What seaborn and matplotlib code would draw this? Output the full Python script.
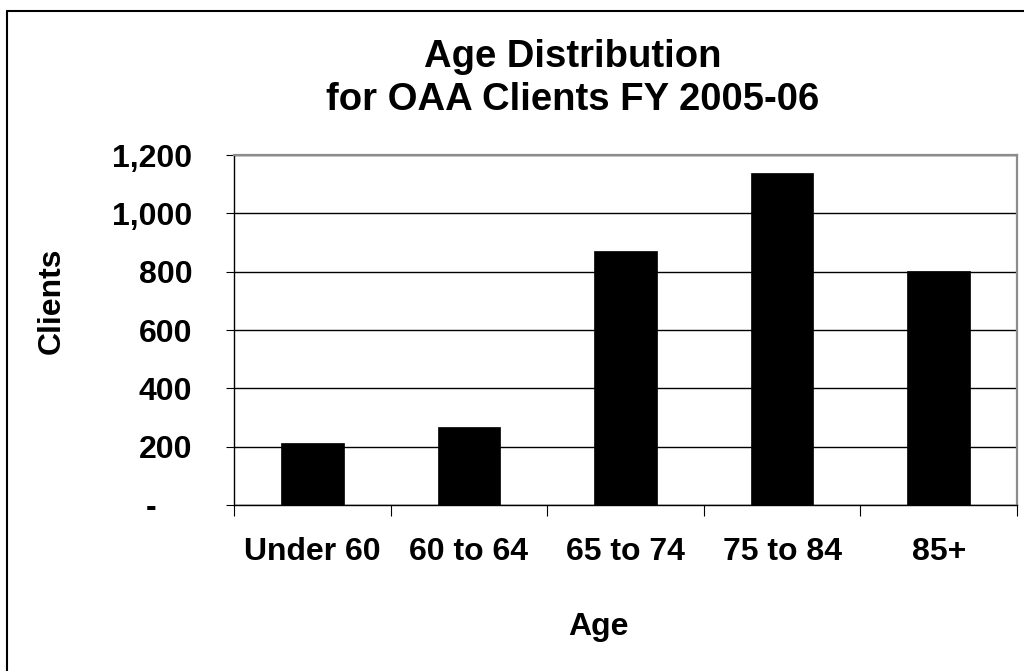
import pandas as pd
import matplotlib.pyplot as plt
import seaborn as sns
from matplotlib.ticker import FuncFormatter, FixedLocator
from matplotlib.lines import Line2D

# Chart data
age_groups = ["Under 60", "60 to 64", "65 to 74", "75 to 84", "85+"]
clients = [214, 269, 872, 1139, 803]
y_ticks = [0, 200, 400, 600, 800, 1000, 1200]

df = pd.DataFrame({"age": age_groups, "clients": clients})

sns.set_style("white")
plt.rcParams["font.family"] = ["Liberation Sans", "DejaVu Sans"]
plt.rcParams["font.weight"] = "bold"
plt.rcParams["text.color"] = "black"
plt.rcParams["xtick.color"] = "black"
plt.rcParams["ytick.color"] = "black"

W, H = 1024, 671
fig = plt.figure(figsize=(W / 100, H / 100), dpi=100)
ax = fig.add_axes([234 / W, 1 - 505 / H, (1017 - 234) / W, (505 - 155) / H])

sns.barplot(data=df, x="age", y="clients", color="black", width=0.4,
            saturation=1, edgecolor="black", linewidth=0.5, ax=ax)

ax.set_xlim(-0.5, len(age_groups) - 0.5)
ax.set_ylim(0, 1200)
ax.set_yticks(y_ticks)
# accounting style: zero shown as a dash
ax.yaxis.set_major_formatter(FuncFormatter(lambda v, p: "-    " if v == 0 else f"{int(v):,}"))
ax.set_axisbelow(True)
ax.yaxis.grid(True, color="black", linewidth=1.0)
ax.xaxis.grid(False)

# category boundary ticks below the axis
ax.xaxis.set_minor_locator(FixedLocator([i - 0.5 for i in range(len(age_groups) + 1)]))
ax.tick_params(axis="x", which="minor", length=8, width=0.8, color="black", direction="out", bottom=True)
ax.tick_params(axis="x", which="major", length=0, pad=23, labelsize=23, labelcolor="black")
ax.tick_params(axis="y", which="major", length=6, width=0.8, color="black", direction="out",
               left=True, pad=24, labelsize=23, labelcolor="black")
for lab in ax.get_xticklabels() + ax.get_yticklabels():
    lab.set_fontweight("bold")

ax.set_xlabel("")
ax.set_ylabel("")

for side in ["left", "bottom"]:
    ax.spines[side].set_color("black")
    ax.spines[side].set_linewidth(1.0)
for side in ["top", "right"]:
    ax.spines[side].set_color("#8c8c8c")
    ax.spines[side].set_linewidth(1.6)

fig.text(573 / W, 1 - 57 / H, "Age Distribution",
         ha="center", va="center", fontsize=27.5, fontweight="bold")
fig.text(573 / W, 1 - 100 / H, "for OAA Clients FY 2005-06",
         ha="center", va="center", fontsize=27.5, fontweight="bold")
fig.text(52 / W, 1 - 301 / H, "Clients", rotation=90, ha="center", va="center",
         fontsize=23, fontweight="bold")
fig.text(598 / W, 1 - 627 / H, "Age", ha="center", va="center",
         fontsize=23, fontweight="bold")

# outer chart border
fig.add_artist(Line2D([7 / W, 1.0], [1 - 11 / H, 1 - 11 / H], color="black", linewidth=1.5))
fig.add_artist(Line2D([7 / W, 7 / W], [0.0, 1 - 11 / H], color="black", linewidth=1.5))

fig.savefig("out.png", dpi=100)
